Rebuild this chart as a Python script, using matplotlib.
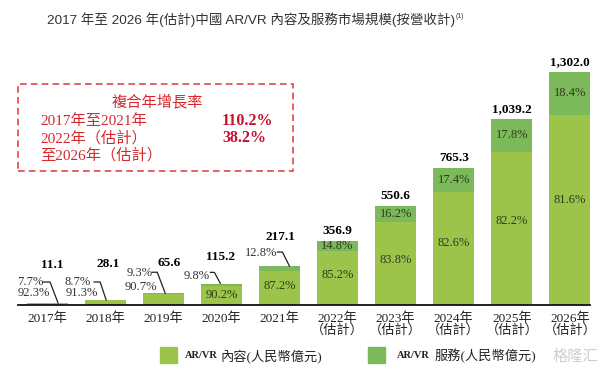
import matplotlib.pyplot as plt
from matplotlib.lines import Line2D
from matplotlib.patches import Rectangle
from matplotlib.transforms import IdentityTransform

# data
years = ['2017年', '2018年', '2019年', '2020年', '2021年',
         '2022年\n（估計）', '2023年\n（估計）', '2024年\n（估計）',
         '2025年\n（估計）', '2026年\n（估計）']
totals = [11.1, 28.1, 65.6, 115.2, 217.1, 356.9, 550.6, 765.3, 1039.2, 1302.0]
content_pct = [92.3, 91.3, 90.7, 90.2, 87.2, 85.2, 83.8, 82.6, 82.2, 81.6]
service_pct = [7.7, 8.7, 9.3, 9.8, 12.8, 14.8, 16.2, 17.4, 17.8, 18.4]

cagr_rows = ['2017年至2021年', '2022年（估計）', '至2026年（估計）']
cagr_vals = ['110.2%', '38.2%']

content = [t * p / 100 for t, p in zip(totals, content_pct)]
service = [t - c for t, c in zip(totals, content)]

light = '#9DC44A'
dark = '#7CB95A'
red = '#D42A2F'
serif = ['Liberation Serif', 'Noto Sans CJK TC']
sans = ['Liberation Sans', 'Noto Sans CJK TC', 'DejaVu Sans']

fig = plt.figure(figsize=(6.08, 3.76), dpi=100)
ax = fig.add_axes([18/608, 1 - 305/376, 572/608, 265/376])

x = list(range(len(years)))
ax.bar(x, content, width=0.706, color=light, zorder=2)
ax.bar(x, service, bottom=content, width=0.706, color=dark, zorder=2)

ax.set_xlim(-0.5, 9.345)
ax.set_ylim(0, 1479)
for s in ['top', 'left', 'right']:
    ax.spines[s].set_visible(False)
ax.spines['bottom'].set_color('#111111')
ax.spines['bottom'].set_linewidth(1.3)
ax.spines['bottom'].set_zorder(3)
ax.set_yticks([])
ax.set_xticks(x)
ax.set_xticklabels(years, fontsize=9.5, family=serif, linespacing=1.0, color='#222222')
ax.tick_params(axis='x', length=0, pad=5)

# small bars: labels outside with leader lines (pixel offsets from bar top)
small = {
    0: dict(total=(5, 38), svc=(-17, 21), cnt=(-13, 10), line=[(-4, 21), (3, 21), (11, 0)]),
    1: dict(total=(3, 36), svc=(-28, 18), cnt=(-23, 7), line=[(-11, 18), (-5, 18), (1, 0)]),
    2: dict(total=(6, 30), svc=(-24, 20), cnt=(-22, 6), line=[(-11, 21), (-6, 21), (2, 0)]),
    3: dict(total=(-1, 27), svc=(-25, 8), line=[(-11, 12), (-7, 12), (-1, 1)]),
    4: dict(total=(1, 29), svc=(-18, 13), line=[(-2, 14), (3, 14), (10, 0)]),
}

for i in x:
    tot = totals[i]
    if i in small:
        lay = small[i]
        ax.annotate(f'{tot:,.1f}', xy=(i, tot), xytext=lay['total'], textcoords='offset pixels',
                    ha='center', va='center', fontsize=9.5, fontweight='bold', family=serif)
        ax.annotate(f'{service_pct[i]}%', xy=(i, tot), xytext=lay['svc'], textcoords='offset pixels',
                    ha='center', va='center', fontsize=9, family=serif, color='#333333')
        if 'cnt' in lay:
            ax.annotate(f'{content_pct[i]}%', xy=(i, tot), xytext=lay['cnt'], textcoords='offset pixels',
                        ha='center', va='center', fontsize=9, family=serif, color='#333333')
        else:
            ax.text(i, content[i] * 0.55, f'{content_pct[i]}%', ha='center', va='center',
                    fontsize=9, family=serif, color='#2e3b1c', zorder=4)
    else:
        ax.annotate(f'{tot:,.1f}', xy=(i, tot), xytext=(0, 10), textcoords='offset pixels',
                    ha='center', va='center', fontsize=9.5, fontweight='bold', family=serif)
        ax.text(i, content[i] + service[i] / 2, f'{service_pct[i]}%', ha='center', va='center',
                fontsize=9, family=serif, color='#2e3b1c', zorder=4)
        ax.text(i, content[i] * 0.55, f'{content_pct[i]}%', ha='center', va='center',
                fontsize=9, family=serif, color='#2e3b1c', zorder=4)

# leader lines in display pixels
for i, lay in small.items():
    bx, by = ax.transData.transform((i, totals[i]))
    xs = [bx + p[0] for p in lay['line']]
    ys = [by + p[1] for p in lay['line']]
    fig.add_artist(Line2D(xs, ys, transform=IdentityTransform(), color='#222222', lw=0.9))

# title
fig.text(455/608, 1 - 20/376, '2017 年至 2026 年(估計)中國 AR/VR 內容及服務市場規模(按營收計)',
         ha='right', va='center', fontsize=9.7, family=sans, color='#333333')
fig.text(456/608, 1 - 16/376, '(1)', ha='left', va='center', fontsize=5, family=sans, color='#333333')

# CAGR box
fig.add_artist(Rectangle((18/608, 1 - 171/376), 275/608, 87/376, transform=fig.transFigure,
                         fill=False, edgecolor='#E0474C', lw=1.2, linestyle=(0, (4, 2.5))))
fig.text(157/608, 1 - 102/376, '複合年增長率', ha='center', va='center', fontsize=11,
         family=serif, color=red)
row_y = [121, 138, 155]
for r, yy in zip(cagr_rows, row_y):
    fig.text(40/608, 1 - yy/376, r, ha='left', va='center', fontsize=11, family=serif, color=red)
for v, yy in zip(cagr_vals, row_y):
    fig.text(222/608, 1 - yy/376, v, ha='left', va='center', fontsize=11.5, fontweight='bold',
             family=serif, color='#C8102E')

# legend
fig.add_artist(Rectangle((160/608, 1 - 363/376), 17/608, 16/376, transform=fig.transFigure,
                         color=light))
fig.text(185/608, 1 - 356/376, 'AR/VR', ha='left', va='center', fontsize=7.5, fontweight='bold',
         family=serif, color='#222222')
fig.text(221/608, 1 - 356/376, '內容(人民幣億元)', ha='left', va='center', fontsize=9.5,
         family=serif, color='#222222')
fig.add_artist(Rectangle((368/608, 1 - 363/376), 17/608, 16/376, transform=fig.transFigure,
                         color=dark))
fig.text(397/608, 1 - 356/376, 'AR/VR', ha='left', va='center', fontsize=7.5, fontweight='bold',
         family=serif, color='#222222')
fig.text(435/608, 1 - 356/376, '服務(人民幣億元)', ha='left', va='center', fontsize=9.5,
         family=serif, color='#222222')

# watermark
fig.text(598/608, 1 - 357/376, '格隆汇', ha='right', va='center', fontsize=11,
         family=sans, color='#c8c8c8', alpha=0.9)

fig.savefig('out.png', dpi=100)
